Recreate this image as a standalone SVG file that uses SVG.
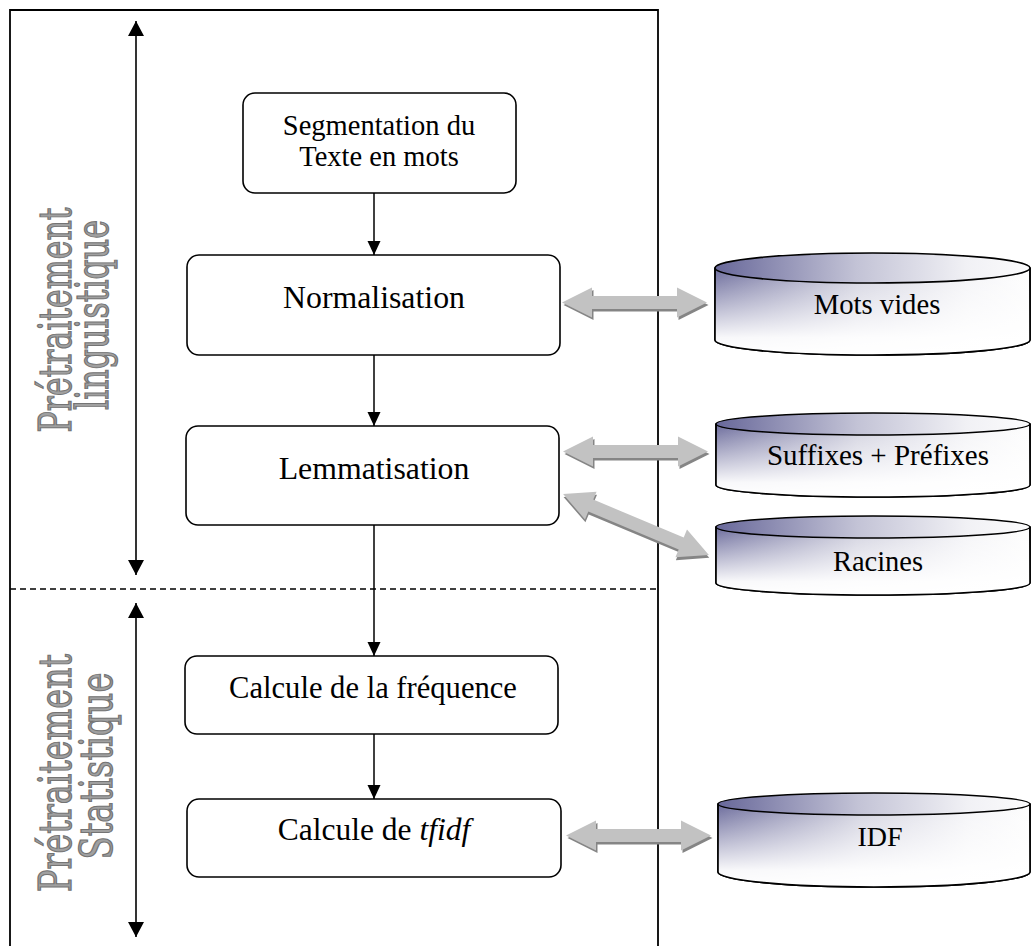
<svg xmlns="http://www.w3.org/2000/svg" xmlns:xlink="http://www.w3.org/1999/xlink" width="1032" height="946" viewBox="0 0 1032 946">
  <style>
    .frame { fill: none; stroke: #000; stroke-width: 1.8; }
    .sep { fill: none; stroke: #000; stroke-width: 1.4; stroke-dasharray: 6 4; }
    .box { fill: #fff; stroke: #000; stroke-width: 1.6; }
    .lbl { font-family: "Liberation Serif", "Times New Roman", serif; fill: #000; text-anchor: middle; }
    .flow { fill: none; stroke: #000; stroke-width: 1.5; marker-end: url(#head); }
    .span { fill: none; stroke: #000; stroke-width: 1.6; marker-start: url(#bighead); marker-end: url(#bighead); }
    .phase { font-family: "DejaVu Serif", "Liberation Serif", serif; font-size: 45px; fill: #a0a0a0; stroke: #747474; stroke-width: 1.3; text-anchor: middle; }
    .cyl { stroke: #000; stroke-width: 1.6; }
    .dbl { fill: #c2c2c2; }
    .dbl-shadow { fill: #858585; }
  </style>
  <defs>
    <marker id="head" markerUnits="userSpaceOnUse" markerWidth="14" markerHeight="16" refX="14" refY="6.5" orient="auto">
      <path d="M0,0 L14,6.5 L0,13 Z" fill="#000"/>
    </marker>
    <marker id="bighead" markerUnits="userSpaceOnUse" markerWidth="16" markerHeight="18" refX="15" refY="8" orient="auto-start-reverse">
      <path d="M0,0 L15,8 L0,16 Z" fill="#000"/>
    </marker>
    <linearGradient id="cylTop" x1="0" y1="0" x2="1" y2="0">
      <stop offset="0" stop-color="#68689a"/>
      <stop offset="0.45" stop-color="#c3c3d6"/>
      <stop offset="0.8" stop-color="#f1f1f5"/>
      <stop offset="1" stop-color="#fbfbfc"/>
    </linearGradient>
    <linearGradient id="cylSide" x1="0" y1="0" x2="1" y2="0">
      <stop offset="0" stop-color="#6c6c9c"/>
      <stop offset="0.45" stop-color="#d0d0de"/>
      <stop offset="0.8" stop-color="#f4f4f7"/>
      <stop offset="1" stop-color="#fdfdfd"/>
    </linearGradient>
    <linearGradient id="cylFade" x1="0" y1="0" x2="0" y2="1">
      <stop offset="0" stop-color="#fff" stop-opacity="0"/>
      <stop offset="0.8" stop-color="#fff" stop-opacity="0.95"/>
      <stop offset="1" stop-color="#fff" stop-opacity="1"/>
    </linearGradient>
    <!-- double-headed block arrow, 145 long -->
    <path id="dbl145" d="M-72.5,0 L-42.5,-15 L-42.5,-6.5 L42.5,-6.5 L42.5,-15 L72.5,0 L42.5,15 L42.5,6.5 L-42.5,6.5 L-42.5,15 Z"/>
    <!-- longer variant for the slanted link -->
    <path id="dbl158" d="M-79,0 L-49,-15 L-49,-6.5 L49,-6.5 L49,-15 L79,0 L49,15 L49,6.5 L-49,6.5 L-49,15 Z"/>
  </defs>

  <rect width="1032" height="946" fill="#fff"/>

  <!-- outer frame and phase separator -->
  <g id="frame">
    <path class="frame" d="M10,950 L10,10 L658,10 L658,950"/>
    <line class="sep" x1="10" y1="589" x2="658" y2="589"/>
  </g>

  <!-- phase labels -->
  <g id="phase-linguistique">
    <line class="span" x1="136" y1="21" x2="136" y2="575"/>
    <text class="phase" transform="translate(71,320) rotate(-90)" textLength="225" lengthAdjust="spacingAndGlyphs">Prétraitement</text>
    <text class="phase" transform="translate(108,315) rotate(-90)" textLength="190" lengthAdjust="spacingAndGlyphs">linguistique</text>
  </g>
  <g id="phase-statistique">
    <line class="span" x1="136" y1="603" x2="136" y2="937"/>
    <text class="phase" transform="translate(71,773) rotate(-90)" textLength="238" lengthAdjust="spacingAndGlyphs">Prétraitement</text>
    <text class="phase" transform="translate(112,766) rotate(-90)" textLength="187" lengthAdjust="spacingAndGlyphs">Statistique</text>
  </g>

  <!-- process steps -->
  <g id="node-segmentation">
    <rect class="box" x="243" y="93" width="273" height="100" rx="12"/>
    <text class="lbl" x="379" y="135" font-size="28.5">Segmentation du</text>
    <text class="lbl" x="379" y="166" font-size="28.5">Texte en mots</text>
  </g>
  <g id="node-normalisation">
    <rect class="box" x="187" y="255" width="373" height="100" rx="12"/>
    <text class="lbl" x="374" y="308" font-size="31.8">Normalisation</text>
  </g>
  <g id="node-lemmatisation">
    <rect class="box" x="186" y="426" width="373" height="99" rx="12"/>
    <text class="lbl" x="374" y="479" font-size="31.8">Lemmatisation</text>
  </g>
  <g id="node-frequence">
    <rect class="box" x="185" y="656" width="373" height="78" rx="12"/>
    <text class="lbl" x="373" y="698" font-size="30.6">Calcule de la fréquence</text>
  </g>
  <g id="node-tfidf">
    <rect class="box" x="187" y="799" width="374" height="78" rx="12"/>
    <text class="lbl" x="374" y="840" font-size="31.5">Calcule de <tspan font-style="italic">tfidf</tspan></text>
  </g>

  <!-- resources -->
  <g id="db-mots-vides">
    <path class="cyl" d="M715,268 L715,340 A157.5,15 0 0 0 1030,340 L1030,268 Z" fill="url(#cylSide)"/>
    <path d="M715,268 L715,340 A157.5,15 0 0 0 1030,340 L1030,268 Z" fill="url(#cylFade)"/>
    <path class="cyl" fill="none" d="M715,268 L715,340 A157.5,15 0 0 0 1030,340 L1030,268"/>
    <ellipse class="cyl" cx="872.5" cy="268" rx="157.5" ry="15" fill="url(#cylTop)"/>
    <text class="lbl" x="877" y="314" font-size="28.7">Mots vides</text>
  </g>
  <g id="db-affixes">
    <path class="cyl" d="M716,424 L716,485 A157,12 0 0 0 1030,485 L1030,424 Z" fill="url(#cylSide)"/>
    <path d="M716,424 L716,485 A157,12 0 0 0 1030,485 L1030,424 Z" fill="url(#cylFade)"/>
    <path class="cyl" fill="none" d="M716,424 L716,485 A157,12 0 0 0 1030,485 L1030,424"/>
    <ellipse class="cyl" cx="873" cy="424" rx="157" ry="11" fill="url(#cylTop)"/>
    <text class="lbl" x="878" y="465" font-size="29">Suffixes + Préfixes</text>
  </g>
  <g id="db-racines">
    <path class="cyl" d="M716,527 L716,583 A157,12 0 0 0 1030,583 L1030,527 Z" fill="url(#cylSide)"/>
    <path d="M716,527 L716,583 A157,12 0 0 0 1030,583 L1030,527 Z" fill="url(#cylFade)"/>
    <path class="cyl" fill="none" d="M716,527 L716,583 A157,12 0 0 0 1030,583 L1030,527"/>
    <ellipse class="cyl" cx="873" cy="527" rx="157" ry="11" fill="url(#cylTop)"/>
    <text class="lbl" x="878" y="571" font-size="28.5">Racines</text>
  </g>
  <g id="db-idf">
    <path class="cyl" d="M718,804 L718,872 A156,15 0 0 0 1030,872 L1030,804 Z" fill="url(#cylSide)"/>
    <path d="M718,804 L718,872 A156,15 0 0 0 1030,872 L1030,804 Z" fill="url(#cylFade)"/>
    <path class="cyl" fill="none" d="M718,804 L718,872 A156,15 0 0 0 1030,872 L1030,804"/>
    <ellipse class="cyl" cx="874" cy="804" rx="156" ry="11" fill="url(#cylTop)"/>
    <text class="lbl" x="880" y="846" font-size="28">IDF</text>
  </g>

  <!-- connectors -->
  <g id="connectors">
    <line class="flow" x1="374" y1="193" x2="374" y2="255"/>
    <line class="flow" x1="374" y1="355" x2="374" y2="426"/>
    <line class="flow" x1="374" y1="525" x2="374" y2="656"/>
    <line class="flow" x1="374" y1="734" x2="374" y2="799"/>

    <g id="link-mots-vides" transform="translate(634.5,302.5)">
      <use xlink:href="#dbl145" class="dbl-shadow" transform="translate(1.5,2.5)"/>
      <use xlink:href="#dbl145" class="dbl"/>
    </g>
    <g id="link-affixes" transform="translate(635.5,451.5)">
      <use xlink:href="#dbl145" class="dbl-shadow" transform="translate(1.5,2.5)"/>
      <use xlink:href="#dbl145" class="dbl"/>
    </g>
    <g id="link-racines" transform="translate(636,524.5) rotate(22.7)">
      <use xlink:href="#dbl158" class="dbl-shadow" transform="translate(1.5,2.5)"/>
      <use xlink:href="#dbl158" class="dbl"/>
    </g>
    <g id="link-idf" transform="translate(638.5,835.5)">
      <use xlink:href="#dbl145" class="dbl-shadow" transform="translate(1.5,2.5)"/>
      <use xlink:href="#dbl145" class="dbl"/>
    </g>
  </g>
</svg>
